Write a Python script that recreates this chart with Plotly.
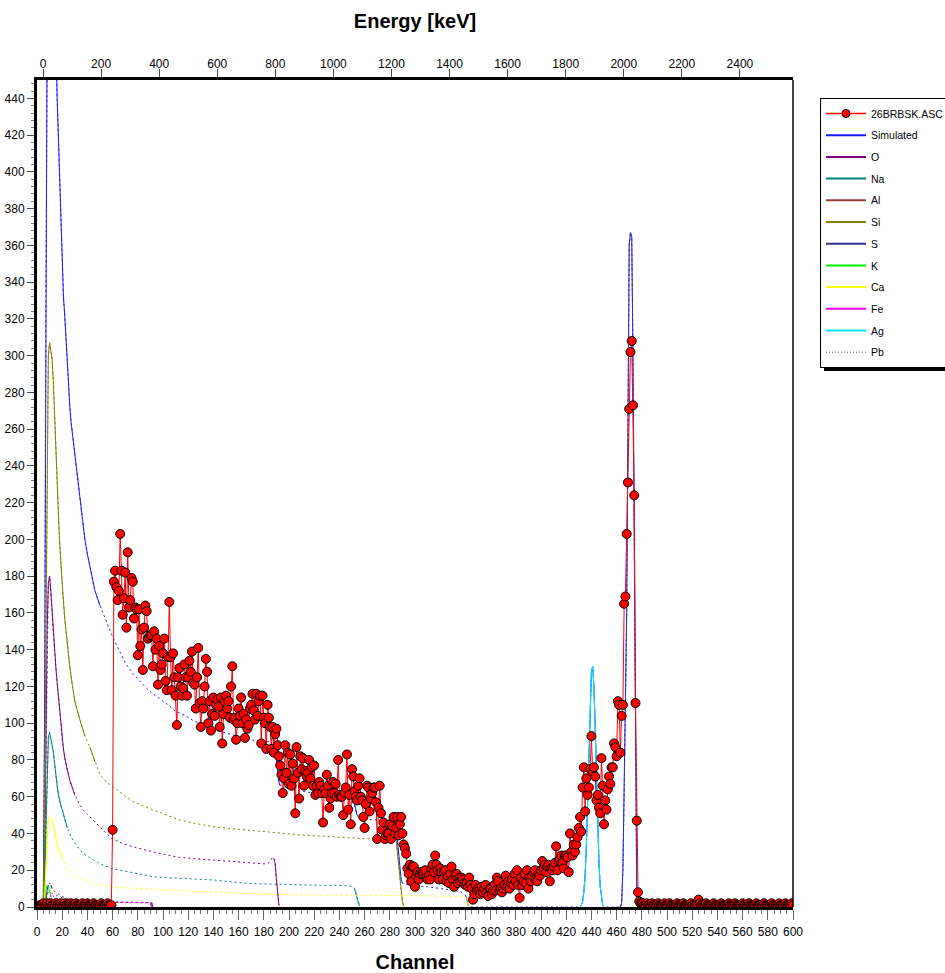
import plotly.graph_objects as go

# ---------------- axis calibration (top axis) ----------------
E_OFFSET = -20.65   # keV at channel 0
E_GAIN = 4.339      # keV per channel
CH_MAX = 600

# ---------------- experimental spectrum 26BRBSK.ASC (one value per channel) ----------------
EXP_LOW = [  # channels 0-59
    0, 0, 1, 1, 1, 2, 1, 1, 2, 1,
    1, 2, 1, 1, 1, 2, 1, 1, 1, 2,
    1, 1, 2, 1, 1, 1, 1, 2, 1, 1,
    1, 2, 1, 1, 1, 1, 2, 1, 1, 1,
    2, 1, 1, 1, 1, 2, 1, 1, 1, 1,
    1, 2, 1, 1, 1, 1, 2, 1, 1, 1,
]
EXP_MAIN = [  # channels 60-480
    42,
    177, 183, 174, 167, 172, 203, 183, 159, 168, 182,
    152, 193, 163, 167, 179, 177, 157, 163, 162, 137,
    162, 142, 151, 129, 152, 164, 161, 146, 147, 148,
    148, 131, 150, 140, 146, 121, 142, 129, 132, 138,
    146, 123, 118, 136, 166, 136, 118, 138, 125, 115,
    99, 125, 130, 120, 115, 119, 132, 125, 115, 125,
    134, 128, 139, 122, 121, 108, 125, 141, 111, 98,
    112, 108, 120, 135, 128, 100, 112, 96, 105, 114,
    104, 110, 113, 109, 98, 114, 89, 105, 112, 115,
    108, 112, 103, 120, 131, 102, 103, 91, 100, 108,
    104, 114, 100, 105, 92, 102, 97, 99, 108, 110,
    116, 107, 102, 116, 104, 112, 115, 89, 115, 103,
    100, 86, 110, 103, 98, 86, 98, 84, 94, 97,
    88, 82, 77, 72, 62, 70, 88, 73, 84, 67,
    83, 66, 78, 70, 51, 87, 73, 59, 82, 75,
    81, 66, 74, 71, 73, 80, 70, 76, 66, 77,
    61, 66, 62, 68, 66, 62, 46, 64, 62, 72,
    66, 54, 59, 62, 68, 62, 67, 60, 80, 61,
    60, 60, 50, 62, 65, 83, 53, 61, 45, 75,
    71, 63, 60, 58, 66, 70, 60, 58, 49, 43,
    56, 66, 65, 52, 59, 62, 65, 65, 57, 37,
    54, 66, 51, 42, 46, 37, 39, 40, 40, 45,
    37, 44, 49, 40, 43, 49, 39, 45, 49, 40,
    34, 32, 29, 21, 18, 23, 14, 22, 22, 11,
    17, 19, 15, 18, 19, 18, 19, 20, 16, 15,
    17, 15, 21, 23, 19, 28, 23, 20, 15, 21,
    19, 15, 19, 20, 14, 17, 13, 18, 22, 15,
    11, 17, 18, 13, 16, 14, 16, 15, 13, 12,
    13, 11, 16, 12, 10, 4, 7, 12, 9, 10,
    9, 7, 11, 8, 10, 12, 8, 6, 10, 10,
    7, 9, 12, 9, 16, 14, 9, 10, 8, 10,
    12, 17, 11, 14, 10, 13, 15, 12, 18, 14,
    20, 12, 5, 16, 12, 14, 18, 13, 20, 10,
    16, 14, 17, 19, 20, 15, 14, 18, 17, 20,
    25, 21, 23, 19, 22, 23, 14, 21, 20, 22,
    24, 33, 20, 25, 26, 28, 24, 21, 28, 28,
    27, 19, 40, 30, 28, 34, 30, 34, 38, 43,
    49, 41, 65, 76, 52, 70, 61, 65, 75, 93,
    73, 76, 71, 58, 61, 54, 51, 81, 66, 45,
    58, 53, 64, 71, 67, 76, 76, 89, 87, 82,
    112, 110, 84, 104, 110, 165, 169, 203, 231, 271,
    302, 308, 273, 224, 111, 47, 8, 3, 2, 2,
]
EXP_HIGH = [  # channels 481-600
    2, 1, 1, 2, 1, 1, 1, 2, 1, 1,
    1, 1, 2, 1, 1, 1, 1, 2, 1, 1,
    1, 2, 1, 1, 1, 1, 1, 2, 1, 1,
    1, 1, 2, 1, 1, 1, 1, 1, 2, 1,
    1, 1, 1, 2, 4, 2, 1, 1, 1, 1,
    2, 1, 1, 1, 1, 1, 2, 1, 1, 1,
    1, 1, 2, 1, 1, 1, 1, 1, 2, 1,
    1, 1, 1, 2, 1, 1, 1, 1, 1, 2,
    1, 1, 1, 1, 2, 1, 1, 1, 1, 1,
    2, 1, 1, 1, 1, 1, 2, 1, 1, 1,
    1, 1, 2, 1, 1, 1, 1, 1, 2, 1,
    1, 1, 1, 2, 1, 1, 1, 1, 2, 1,
]

# ---------------- simulated total spectrum ----------------
SIM_CH = [0, 4, 5, 6, 7, 8, 9, 10, 11, 12,
          13, 14, 15, 16, 17, 18, 19, 20, 21, 22,
          23, 24, 25, 26, 27, 28, 30, 32, 34, 36,
          38, 40, 43, 46, 50, 55, 60, 65, 70, 76,
          82, 87, 92, 98, 104, 110, 118, 125, 130, 140,
          150, 160, 170, 180, 185, 187, 188, 189, 190, 191,
          192, 193, 200, 210, 220, 230, 240, 248, 251, 252,
          253, 254, 255, 256, 265, 275, 283, 285, 286, 287,
          288, 289, 290, 295, 300, 310, 320, 330, 336, 338,
          340, 341, 342, 343, 431, 432, 433, 434, 435, 436,
          437, 438, 439, 440, 441, 442, 443, 444, 445, 446,
          447, 448, 449, 450, 463, 464, 465, 466, 467, 468,
          469, 470, 471, 472, 473, 474, 475, 476, 477, 480,
          600]
SIM_Y = [0, 0, 5, 100, 330, 560, 660, 700, 690, 640,
         580, 520, 470, 440, 418, 390, 365, 345, 332, 322,
         308, 296, 285, 273, 264, 258, 248, 236, 225, 212,
         200, 192, 182, 172, 164, 155, 147, 140, 133, 127,
         122.5, 119, 116, 113, 110, 106.5, 104, 101, 100, 96.5,
         94.6, 92.8, 91, 89.8, 90, 92, 91, 88, 80, 72,
         68, 66, 64.5, 63, 62, 61, 60, 58.5, 57, 56,
         53, 50, 48.5, 48, 47.5, 47, 46, 44, 36, 27,
         19, 15, 13, 12, 11.5, 11, 10, 9.3, 8.5, 7.5,
         6.5, 4, 1, 0, 0, 1, 3, 8, 17, 33,
         55, 84, 110, 128, 131, 120, 98, 70, 44, 24,
         11, 4, 1, 0, 0, 2, 20, 60, 105, 160,
         260, 360, 367, 365, 300, 180, 60, 5, 1, 0,
         0]

# ---------------- element contributions ----------------
O_CH = [0, 5, 6, 7, 8, 9, 10, 11, 12, 13, 14, 15, 16, 17, 18, 19, 20, 21, 22, 23, 24,
        26, 28, 30, 32, 34, 37, 40, 45, 50, 55, 60, 68, 76, 84, 92, 102, 113, 125, 140, 155,
        166, 182, 184, 186, 187, 188, 189, 190, 191, 192, 193]
O_Y = [0, 0, 20, 80, 150, 176, 180, 172, 160, 148, 138, 130, 122, 115, 106, 97, 91, 86, 81, 78, 75,
       69, 65, 61, 58, 55.5, 52.5, 50.5, 47, 43, 40, 37, 34.5, 32.8, 31.3, 30, 28.5, 27, 26.3, 25.6, 24.7,
       24, 23.4, 24, 26, 27, 26.5, 24, 15, 6, 1, 0]

NA_CH = [0, 5, 6, 7, 8, 9, 10, 11, 12, 13, 14, 15, 16, 17, 18, 19, 20, 21, 22,
         24, 26, 28, 30, 34, 38, 44, 50, 59, 68, 76, 84, 92, 102, 113, 125, 140, 155, 166, 180,
         198, 212, 225, 240, 249, 250, 251, 252, 253, 254, 255, 256]
NA_Y = [0, 0, 10, 40, 75, 92, 95, 92, 88, 84, 77, 71, 66, 61, 57, 55, 53, 51, 48,
        43, 40, 37, 35, 31, 28.5, 25.8, 23.5, 21, 19.8, 18.7, 17.5, 16.5, 16, 15.6, 15.2, 14.7, 13.6, 12.9, 12.6,
        12.2, 12, 11.8, 11.8, 11.5, 11.3, 11, 10, 8, 5, 2.5, 0.5]

AL_CH = [0, 5, 6, 7, 8, 9, 10, 12, 14, 17, 20, 25, 30, 40, 60, 90, 91]
AL_Y = [0, 0, 2, 5, 7, 8, 8, 7.5, 7, 6, 5, 4, 3.5, 3, 2.5, 2.2, 0]

SI_CH = [0, 5, 6, 7, 8, 9, 10, 11, 12, 13, 14, 15, 16, 17, 18, 19, 20,
         22, 24, 26, 28, 30, 34, 38, 42, 46, 50, 55, 60, 65, 70, 76, 84, 92, 102, 113, 125,
         140, 155, 166, 178, 188, 200, 209, 222, 235, 250, 260, 267, 275, 283, 284,
         285, 286, 287, 288, 289, 290, 291]
SI_Y = [0, 0, 40, 140, 240, 300, 307, 303, 298, 285, 265, 248, 232, 214, 198, 185, 176,
        157, 143, 131, 121, 112, 102, 93, 87, 79, 72, 68, 65.5, 63, 60, 57.4, 55, 52.8, 50, 47.4, 45.5,
        43.7, 42.6, 42, 41.3, 40.7, 39.8, 39.2, 38.6, 38, 37.5, 37.2, 37, 36.8, 36.5, 38,
        36.5, 30, 22, 15, 8, 3, 0.5]

S_CH = [0, 5, 6, 7, 8, 9, 10, 11, 12, 13, 15, 18, 22, 28, 35, 45, 60, 80, 91, 92]
S_Y = [0, 0, 2, 5, 9, 12, 13, 12, 10, 9, 8, 6.5, 5, 4, 3.5, 3, 2.7, 2.5, 2.4, 0]

K_CH = [0, 5, 6, 7, 8, 9, 10, 11, 12, 14, 17, 20, 25, 30, 40, 41]
K_Y = [0, 0, 3, 9, 12, 11, 8, 6, 5, 4.5, 4, 3.5, 3, 2.5, 2.2, 0]

CA_CH = [0, 5, 6, 7, 8, 9, 10, 11, 12, 13, 14, 15, 16, 17, 18, 19, 20,
         22, 25, 28, 32, 36, 42, 50, 59, 76, 90, 103, 116, 129, 142, 156,
         170, 182, 195, 209, 235, 261, 288, 314, 338, 340, 341, 342]
CA_Y = [0, 0, 5, 20, 38, 47, 49, 48.5, 47, 45, 41, 37, 34, 32, 30, 28, 26,
        23.8, 20, 17.8, 16, 14.8, 13.3, 12, 10.9, 10.2, 9.7, 9.3, 8.8, 8.3, 7.8, 7.4,
        7.2, 7, 6.7, 6.5, 6.5, 6.2, 6.2, 6, 5.8, 5.5, 3, 0]

FE_CH = [0, 7, 8, 9, 10, 11, 12, 13, 14, 16, 20, 30, 40, 60, 75, 90, 91]
FE_Y = [0, 0, 1, 3, 5, 6.5, 7, 6, 5, 4.5, 4, 3.5, 3.2, 2.8, 2.5, 2.4, 0]

AG_CH = [431, 432, 433, 434, 435, 436, 437, 438, 439, 440, 441, 442, 443, 444, 445, 446, 447, 448, 449, 450]
AG_Y = [0, 1, 3, 8, 17, 33, 55, 84, 110, 128, 131, 120, 98, 70, 44, 24, 11, 4, 1, 0]

PB_CH = [462, 463, 464, 465, 466, 467, 468, 469, 470, 471, 472, 473, 474, 475, 476, 477, 478]
PB_Y = [0, 0, 2, 20, 60, 105, 160, 260, 360, 367, 365, 300, 180, 60, 5, 1, 0]

# ---------------- series definitions (name, x, y, colour) in legend order ----------------
SERIES = [
    ("Simulated", SIM_CH, SIM_Y, "#1a1aff"),
    ("O", O_CH, O_Y, "#800080"),
    ("Na", NA_CH, NA_Y, "#008080"),
    ("Al", AL_CH, AL_Y, "#a03a3a"),
    ("Si", SI_CH, SI_Y, "#808000"),
    ("S", S_CH, S_Y, "#303090"),
    ("K", K_CH, K_Y, "#00ee00"),
    ("Ca", CA_CH, CA_Y, "#ffff00"),
    ("Fe", FE_CH, FE_Y, "#ff00ff"),
    ("Ag", AG_CH, AG_Y, "#00e5ff"),
]
PB_COLOR = "#555555"
EXP_NAME = "26BRBSK.ASC"


def steep_segments(ch, y, thr=2.0):
    """Return the parts of a curve whose slope is large (drawn solid)."""
    xs, ys = [], []
    prev_end = None
    for i in range(len(ch) - 1):
        slope = abs(y[i + 1] - y[i]) / (ch[i + 1] - ch[i])
        if slope >= thr:
            if prev_end != i:
                if xs:
                    xs.append(None)
                    ys.append(None)
                xs.append(ch[i])
                ys.append(y[i])
            xs.append(ch[i + 1])
            ys.append(y[i + 1])
            prev_end = i + 1
    return xs, ys


fig = go.Figure()

DOT = "2px,3px"
for name, cx, cy, col in SERIES:
    if len(cx) != len(cy):
        raise ValueError(name)
    fig.add_trace(go.Scatter(x=cx, y=cy, mode="lines", name=name, legendgroup=name,
                             showlegend=False, line=dict(color=col, width=1, dash=DOT),
                             hoverinfo="skip"))
    sx, sy = steep_segments(cx, cy)
    fig.add_trace(go.Scatter(x=sx, y=sy, mode="lines", name=name, legendgroup=name,
                             showlegend=False, connectgaps=False,
                             line=dict(color=col, width=1)))

fig.add_trace(go.Scatter(x=PB_CH, y=PB_Y, mode="lines", name="Pb", legendgroup="Pb",
                         showlegend=False, line=dict(color=PB_COLOR, width=1, dash="1px,2px")))

exp_counts = EXP_LOW + EXP_MAIN + EXP_HIGH
exp_channels = list(range(len(exp_counts)))
fig.add_trace(go.Scatter(
    x=exp_channels, y=exp_counts, mode="lines+markers", name=EXP_NAME,
    legendgroup="exp", showlegend=False,
    line=dict(color="#ff0000", width=1),
    marker=dict(size=9, color="#ff0000", line=dict(color="#000000", width=1)),
))

# ---------------- legend entries (legend-only keys) ----------------
fig.add_trace(go.Scatter(x=[None], y=[None], mode="lines+markers", name=EXP_NAME,
                         legendgroup="exp", legendrank=1,
                         line=dict(color="#ff0000", width=1.5),
                         marker=dict(size=8, color="#ff0000", line=dict(color="#000000", width=1))))
for rank, (name, cx, cy, col) in enumerate(SERIES, start=2):
    fig.add_trace(go.Scatter(x=[None], y=[None], mode="lines", name=name, legendgroup=name,
                             legendrank=rank, line=dict(color=col, width=2)))
fig.add_trace(go.Scatter(x=[None], y=[None], mode="lines", name="Pb", legendgroup="Pb",
                         legendrank=12, line=dict(color=PB_COLOR, width=1, dash="1px,2px")))

# dummy trace so the energy axis is bound
fig.add_trace(go.Scatter(x=[E_OFFSET], y=[None], xaxis="x2", showlegend=False,
                         hoverinfo="skip", mode="lines"))

FONT = "Liberation Sans, Arial, sans-serif"

# plot area: x 37..793 px, y 80..907 px
fig.update_layout(
    width=945, height=973,
    margin=dict(l=37, r=152, t=80, b=66, autoexpand=False),
    paper_bgcolor="white", plot_bgcolor="white",
    font=dict(family=FONT, size=12, color="black"),
    xaxis=dict(
        range=[0, CH_MAX], tick0=0, dtick=20, ticks="outside", ticklen=10, tickwidth=1,
        tickcolor="#666666", showline=True, linewidth=3, linecolor="black",
        showgrid=False, zeroline=False, tickfont=dict(size=12), ticklabelstandoff=2,
        minor=dict(dtick=5, ticks="outside", ticklen=4, tickcolor="#777777", showgrid=False),
        title=dict(text="Channel", font=dict(size=20, weight="bold"), standoff=17),
    ),
    xaxis2=dict(
        overlaying="x", side="top", range=[E_OFFSET, E_OFFSET + E_GAIN * CH_MAX],
        tick0=0, dtick=200, ticks="outside", ticklen=8, tickwidth=1, tickcolor="#444444",
        showline=True, linewidth=3, linecolor="black", showgrid=False, zeroline=False,
        tickfont=dict(size=12), ticklabelstandoff=-4,
        title=dict(text="Energy [keV]", font=dict(size=20, weight="bold"), standoff=24),
    ),
    yaxis=dict(
        range=[0, 450], tick0=0, dtick=20, ticks="outside", ticklen=7, tickwidth=1,
        tickcolor="#444444", showline=True, linewidth=3, linecolor="black",
        showgrid=False, zeroline=False, tickfont=dict(size=12),
        minor=dict(dtick=4, ticks="outside", ticklen=3, tickcolor="#777777", showgrid=False),
    ),
    legend=dict(
        x=(820 - 37) / 756, y=(907 - 98) / 827, xanchor="left", yanchor="top",
        bgcolor="white", bordercolor="black", borderwidth=1,
        font=dict(size=10.5, family=FONT), itemwidth=40, tracegroupgap=2.7,
        traceorder="grouped",
    ),
    shapes=[
        dict(type="line", xref="paper", yref="paper", x0=1, x1=1, y0=0, y1=1,
             line=dict(color="black", width=1.5)),
        # legend drop shadow
        dict(type="rect", xref="paper", yref="paper",
             x0=(824 - 37) / 756, x1=(960 - 37) / 756,
             y0=(907 - 371) / 827, y1=(907 - 102) / 827,
             fillcolor="black", line=dict(width=0), layer="above"),
    ],
    showlegend=True,
)

# the page body normally has an 8 px margin; remove it so the figure fills the window
fig.write_html("out.html", config={"displayModeBar": False},
               post_script="document.body.style.margin='0px';")
